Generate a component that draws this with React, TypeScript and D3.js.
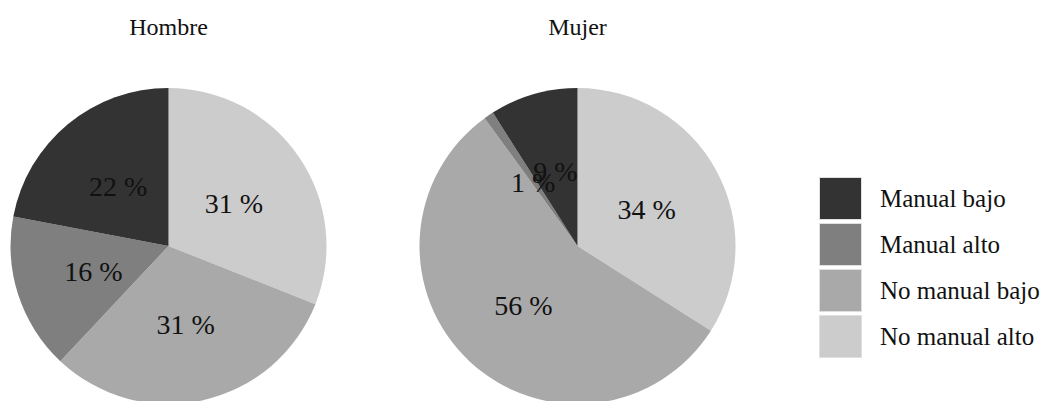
import React from "react";
import * as d3 from "d3";

const categories = ["No manual alto", "No manual bajo", "Manual alto", "Manual bajo"];
const hombreValues = [31, 31, 16, 22];
const mujerValues = [34, 56, 1, 9];
const panelTitles = ["Hombre", "Mujer"];
const legendOrder = ["Manual bajo", "Manual alto", "No manual bajo", "No manual alto"];
const colors = ["#cccccc", "#a9a9a9", "#7f7f7f", "#333333"];

const W = 1045;
const H = 401;
const R = 158;
const FONT = "Liberation Serif";

const color = d3.scaleOrdinal<string, string>().domain(categories).range(colors);

function Pie({ cx, cy, title, values }: { cx: number; cy: number; title: string; values: number[] }) {
  const data = categories.map((c, i) => ({ c, v: values[i] }));
  const pie = d3.pie<{ c: string; v: number }>().value((d) => d.v).sort(null);
  const arcs = pie(data);
  const arc = d3.arc<d3.PieArcDatum<{ c: string; v: number }>>().innerRadius(0).outerRadius(R);
  const labelArc = d3
    .arc<d3.PieArcDatum<{ c: string; v: number }>>()
    .innerRadius(R * 0.5)
    .outerRadius(R * 0.5);
  return (
    <g>
      <text x={cx} y={35} textAnchor="middle" fontFamily={FONT} fontSize={24} fill="#111">
        {title}
      </text>
      <g transform={`translate(${cx},${cy})`}>
        {arcs.map((a) => (
          <path key={a.data.c} d={arc(a) || ""} fill={color(a.data.c)} />
        ))}
        {arcs.map((a) => {
          const [x, y] = labelArc.centroid(a);
          return (
            <text
              key={"l" + a.data.c}
              x={x}
              y={y + 11}
              textAnchor="middle"
              fontFamily={FONT}
              fontSize={28}
              fill="#111"
            >
              {`${a.data.v} %`}
            </text>
          );
        })}
      </g>
    </g>
  );
}

export default function App() {
  const centers = [168.5, 577.5];
  return (
    <svg width={W} height={H} style={{ position: "absolute", left: 0, top: 0, background: "#fff" }}>
      <rect x={0} y={0} width={W} height={H} fill="#fff" />
      <Pie cx={centers[0]} cy={246} title={panelTitles[0]} values={hombreValues} />
      <Pie cx={centers[1]} cy={246} title={panelTitles[1]} values={mujerValues} />
      <g>
        {legendOrder.map((c, i) => (
          <g key={c} transform={`translate(819,${177 + i * 46})`}>
            <rect x={0.5} y={0.5} width={42} height={42} fill={color(c)} stroke="#e0e0e0" strokeWidth={1} />
            <text x={61} y={30} fontFamily={FONT} fontSize={25} fill="#111">
              {c}
            </text>
          </g>
        ))}
      </g>
    </svg>
  );
}
